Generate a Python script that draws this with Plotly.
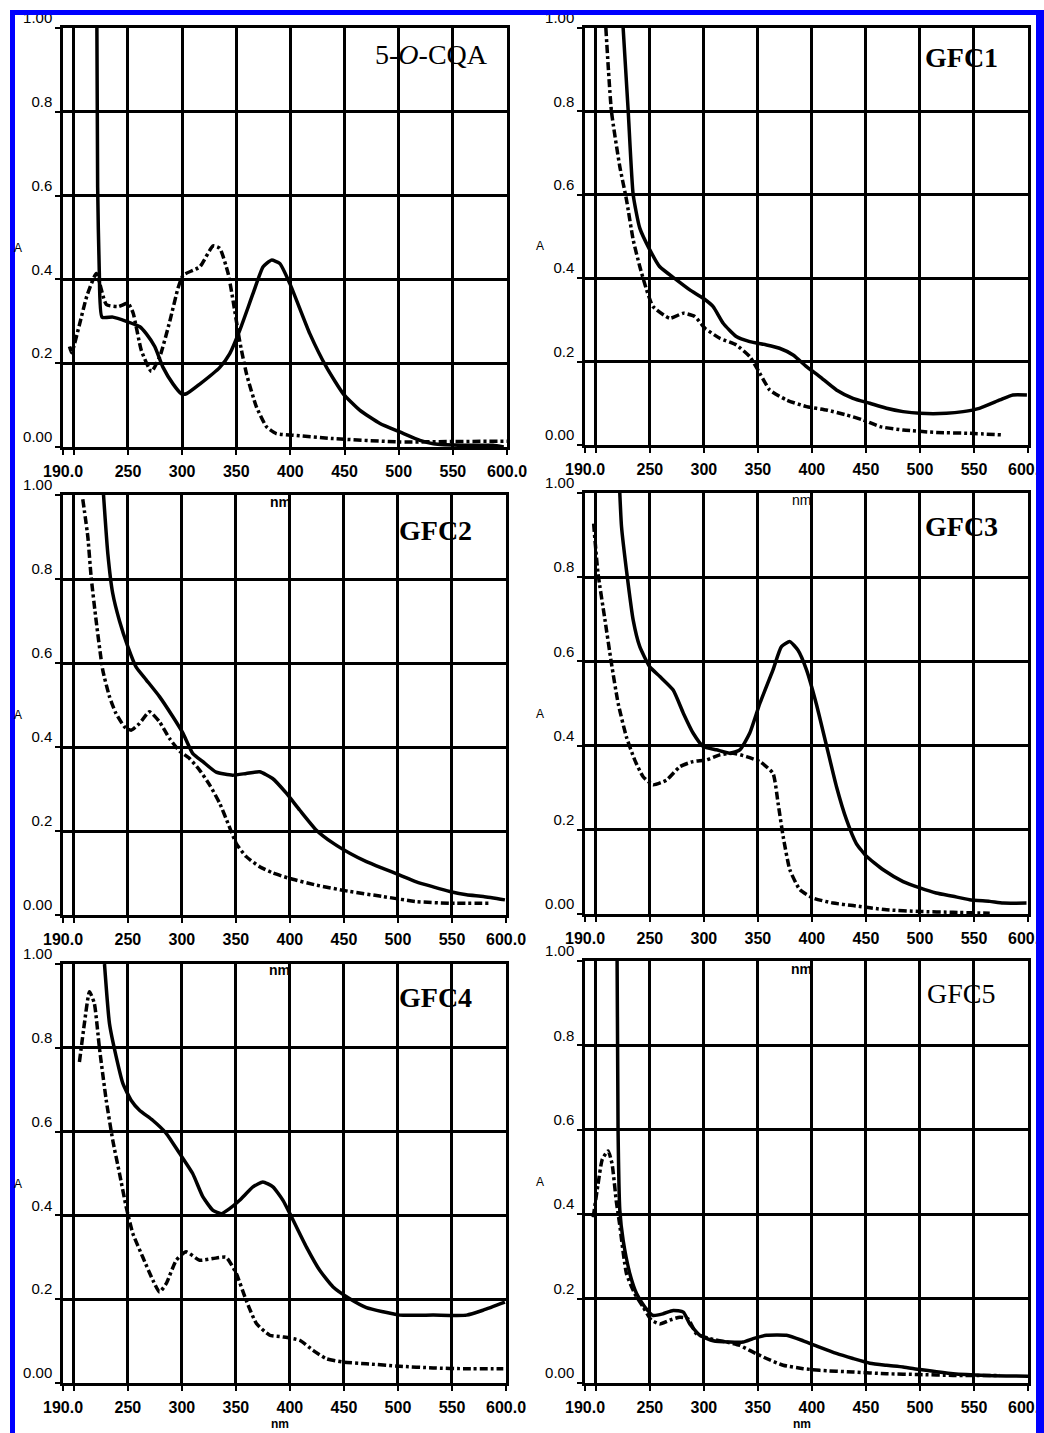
import plotly.graph_objects as go

W, H = 1044, 1433

# ---- tick labels -------------------------------------------------------
x_tick_vals = [190, 200, 250, 300, 350, 400, 450, 500, 550, 600]
x_tick_text = ["190.0", "", "250", "300", "350", "400", "450", "500", "550", "600.0"]
y_tick_vals = [0, 0.2, 0.4, 0.6, 0.8, 1.0]
y_tick_text = ["0.00", "0.2", "0.4", "0.6", "0.8", "1.00"]

panel_titles = ["5-<i>O</i>-CQA", "<b>GFC1</b>", "<b>GFC2</b>", "<b>GFC3</b>", "<b>GFC4</b>", "GFC5"]

# ---- spectra: wavelength (nm) and absorbance ---------------------------
cqa_solid_nm = [221.2, 222.0, 223.5, 226, 236, 248.5, 261, 267, 274.7, 282.4, 291.7, 299.4, 304,
                316.3, 334.8, 344, 353.3, 365.6, 374.8, 382.5, 390.2, 399.5, 418, 433.4, 448.8,
                464, 482.7, 501, 519.6, 532, 562.8, 587, 597]
cqa_solid_a = [1.05, 0.62, 0.42, 0.31, 0.31, 0.30, 0.287, 0.27, 0.24, 0.19, 0.15, 0.127, 0.127,
               0.15, 0.19, 0.223, 0.279, 0.367, 0.43, 0.446, 0.438, 0.39, 0.27, 0.19, 0.127,
               0.088, 0.056, 0.036, 0.016, 0.008, 0.004, 0.004, 0.0]
cqa_dash_nm = [196, 198, 205, 212, 220.8, 230, 240.8, 250, 254.7, 262.4, 271.6, 279.3, 288.6, 296.3,
               300.9, 316.3, 328.6, 334.8, 342.5, 347, 353, 359.4, 368.6, 378, 387, 402.6, 439.5,
               501, 550, 600]
cqa_dash_a = [0.24, 0.225, 0.29, 0.36, 0.414, 0.34, 0.335, 0.343, 0.32, 0.23, 0.18, 0.215, 0.30, 0.38,
              0.41, 0.43, 0.48, 0.474, 0.414, 0.35, 0.255, 0.175, 0.096, 0.048, 0.032, 0.028, 0.02,
              0.012, 0.013, 0.014]

gfc1_solid_nm = [225.3, 230, 234.6, 240.7, 250, 259, 274.7, 287, 299.4, 308.6, 317.9, 330, 342.5,
                 358, 370, 382.6, 395, 407.3, 422.7, 438, 453.6, 469, 484.4, 500, 524.5, 540, 555,
                 574, 586, 599]
gfc1_solid_a = [1.0, 0.80, 0.60, 0.52, 0.468, 0.428, 0.396, 0.372, 0.352, 0.332, 0.292, 0.26, 0.248,
                0.24, 0.232, 0.216, 0.188, 0.164, 0.132, 0.112, 0.10, 0.088, 0.08, 0.076, 0.076,
                0.08, 0.088, 0.108, 0.12, 0.12]
gfc1_dash_nm = [209.3, 214.5, 222.2, 228.4, 234.6, 240.7, 247, 253, 268.5, 281, 291.6, 301, 314.8,
                330, 342.5, 351.8, 361, 376.5, 395, 413.5, 432, 447.4, 463, 484.4, 515.3, 546, 577]
gfc1_dash_a = [1.0, 0.8, 0.668, 0.588, 0.492, 0.428, 0.372, 0.332, 0.304, 0.316, 0.308, 0.28, 0.256,
               0.24, 0.212, 0.172, 0.132, 0.108, 0.092, 0.084, 0.072, 0.06, 0.044, 0.036, 0.03,
               0.028, 0.024]

gfc2_solid_nm = [227.5, 231.5, 236, 242.3, 250, 257.7, 267, 279.3, 291.7, 301, 310, 319.5, 331.8,
                 347, 359.6, 372, 384, 396.7, 409, 424.5, 440, 455.4, 470.8, 486, 501.7, 517,
                 532.6, 548, 563.5, 579, 599]
gfc2_solid_a = [1.0, 0.86, 0.766, 0.70, 0.639, 0.59, 0.56, 0.52, 0.472, 0.433, 0.385, 0.365, 0.34,
                0.333, 0.337, 0.341, 0.325, 0.29, 0.25, 0.202, 0.171, 0.147, 0.127, 0.111, 0.095,
                0.079, 0.067, 0.056, 0.048, 0.044, 0.036]
gfc2_dash_nm = [208.3, 213, 216, 220.7, 226.8, 233, 239, 247, 253, 260.8, 270, 279.3, 288.6, 298,
                307, 316.4, 325.7, 335, 344, 350.4, 359.6, 372, 384.3, 399.8, 424.5, 455.4, 486,
                517, 548, 586.6]
gfc2_dash_a = [0.99, 0.9, 0.806, 0.70, 0.583, 0.52, 0.48, 0.448, 0.44, 0.456, 0.484, 0.46, 0.42,
               0.39, 0.373, 0.345, 0.31, 0.266, 0.21, 0.17, 0.139, 0.115, 0.10, 0.087, 0.071,
               0.056, 0.044, 0.032, 0.028, 0.028]

gfc3_solid_nm = [222.2, 223.8, 228.4, 234.6, 240.7, 250, 259.3, 271.6, 281, 290, 299.4, 311.7, 324,
                 333.3, 342.5, 351.8, 364, 371.8, 379.6, 387, 395, 404, 413.5, 422.7, 432, 441,
                 450.5, 466, 484.4, 500, 515, 530.7, 546, 564.6, 577, 598.6]
gfc3_solid_a = [1.0, 0.92, 0.816, 0.698, 0.635, 0.587, 0.564, 0.532, 0.477, 0.43, 0.398, 0.39, 0.382,
                0.39, 0.43, 0.50, 0.58, 0.635, 0.647, 0.627, 0.58, 0.50, 0.40, 0.303, 0.224, 0.168,
                0.137, 0.105, 0.077, 0.062, 0.05, 0.042, 0.034, 0.03, 0.026, 0.026]
gfc3_dash_nm = [198, 202, 208.4, 214.5, 220.7, 228.4, 236, 243.8, 253, 265.4, 277.8, 290, 302.4,
                314.8, 327, 339.4, 351.8, 364, 368.7, 373.4, 379.6, 388.8, 401, 419.6, 438, 469,
                500, 530.7, 564.6]
gfc3_dash_a = [0.927, 0.81, 0.70, 0.595, 0.50, 0.42, 0.366, 0.326, 0.307, 0.318, 0.35, 0.362, 0.366,
               0.378, 0.382, 0.374, 0.362, 0.334, 0.263, 0.184, 0.105, 0.058, 0.038, 0.026, 0.02,
               0.01, 0.006, 0.004, 0.002]

gfc4_solid_nm = [228.4, 233, 239.2, 245.4, 253, 260.8, 273, 285.5, 297.9, 310, 319.5, 328.8, 336.5,
                 344.2, 353.5, 365.8, 375, 384.3, 393.6, 402.9, 415.2, 427.6, 440, 455.4, 470.8,
                 486.3, 501.7, 532.6, 563.5, 579, 599]
gfc4_solid_a = [1.0, 0.858, 0.779, 0.715, 0.675, 0.651, 0.627, 0.596, 0.548, 0.50, 0.444, 0.412,
                0.404, 0.416, 0.436, 0.468, 0.48, 0.468, 0.436, 0.389, 0.325, 0.269, 0.229, 0.201,
                0.18, 0.17, 0.162, 0.162, 0.162, 0.174, 0.193]
gfc4_dash_nm = [205.2, 209.8, 214.5, 219, 223.7, 230, 236, 242.3, 248.5, 254.6, 263.9, 273.2, 279.3,
                285.5, 294.8, 304, 316.4, 328.8, 341, 350.4, 359.6, 369, 381.3, 393.6, 409, 421.4,
                433.8, 449.2, 470.8, 501.7, 532.6, 563.5, 597.5]
gfc4_dash_a = [0.766, 0.858, 0.934, 0.906, 0.80, 0.675, 0.58, 0.50, 0.42, 0.357, 0.30, 0.245, 0.217,
               0.237, 0.293, 0.313, 0.293, 0.297, 0.30, 0.261, 0.197, 0.142, 0.114, 0.11, 0.102,
               0.078, 0.058, 0.05, 0.046, 0.04, 0.036, 0.034, 0.034]

gfc5_solid_nm = [219.6, 220.6, 222.2, 225.3, 231.5, 237.7, 245.4, 253, 262.3, 271.6, 281, 287,
                 296.3, 308.6, 324, 336.4, 345.6, 358, 376.5, 392, 407, 422.7, 438, 453.6, 469,
                 484.4, 500, 530.7, 561.5, 600]
gfc5_solid_a = [1.05, 0.60, 0.41, 0.338, 0.259, 0.212, 0.18, 0.16, 0.164, 0.172, 0.168, 0.14, 0.113,
                0.10, 0.097, 0.097, 0.105, 0.113, 0.113, 0.10, 0.085, 0.07, 0.058, 0.047, 0.042,
                0.038, 0.032, 0.022, 0.018, 0.016]
gfc5_dash_nm = [197.6, 202, 206, 211.4, 215, 219, 222, 228.4, 236, 243.8, 251.5, 259.3, 268.5,
                277.8, 285.5, 293, 305.5, 321, 333.3, 345.6, 358, 373.4, 392, 407.3, 438, 469,
                500, 530.7, 574]
gfc5_dash_a = [0.393, 0.47, 0.53, 0.55, 0.52, 0.43, 0.377, 0.259, 0.212, 0.18, 0.149, 0.14, 0.149,
               0.156, 0.152, 0.117, 0.105, 0.097, 0.089, 0.073, 0.058, 0.042, 0.034, 0.03, 0.026,
               0.022, 0.02, 0.018, 0.018]

spectra = [
    (cqa_solid_nm, cqa_solid_a, cqa_dash_nm, cqa_dash_a),
    (gfc1_solid_nm, gfc1_solid_a, gfc1_dash_nm, gfc1_dash_a),
    (gfc2_solid_nm, gfc2_solid_a, gfc2_dash_nm, gfc2_dash_a),
    (gfc3_solid_nm, gfc3_solid_a, gfc3_dash_nm, gfc3_dash_a),
    (gfc4_solid_nm, gfc4_solid_a, gfc4_dash_nm, gfc4_dash_a),
    (gfc5_solid_nm, gfc5_solid_a, gfc5_dash_nm, gfc5_dash_a),
]

# plot-area boxes in pixels: (left, right, top, bottom)
boxes = [
    (63, 507, 28, 447),
    (585, 1028, 28, 445),
    (63, 506, 495, 915),
    (585, 1028, 493, 914),
    (63, 506, 964, 1383),
    (585, 1028, 961, 1383),
]
title_pos = [(431, 54), (961, 58), (435, 530), (961, 526), (435, 998), (961, 993)]
nm_bold = [True, False, True, True, True, True]


def px(x):
    return x / W


def py(y):
    return 1 - y / H


fig = go.Figure()
layout = {}
annotations = []

for i, (box, (s_nm, s_a, d_nm, d_a)) in enumerate(zip(boxes, spectra)):
    n = "" if i == 0 else str(i + 1)
    xa, ya = "x" + n, "y" + n
    left, right, top, bottom = box

    fig.add_trace(go.Scatter(x=d_nm, y=d_a, xaxis=xa, yaxis=ya, mode="lines",
                             line=dict(color="black", width=3.5, dash="8px,3px,3px,3px",
                                       shape="spline", smoothing=0.5),
                             showlegend=False, hoverinfo="skip"))
    fig.add_trace(go.Scatter(x=s_nm, y=s_a, xaxis=xa, yaxis=ya, mode="lines",
                             line=dict(color="black", width=3.5, shape="spline", smoothing=0.5),
                             showlegend=False, hoverinfo="skip"))

    layout["xaxis" + n] = dict(
        domain=[px(left), px(right)], anchor=ya, range=[190, 600], automargin=False,
        tickmode="array", tickvals=x_tick_vals, ticktext=x_tick_text,
        showgrid=True, gridcolor="black", gridwidth=2.5,
        showline=True, linecolor="black", linewidth=2.5, mirror=True,
        ticks="outside", ticklen=5, tickwidth=2, tickcolor="black",
        ticklabelstandoff=3, ticklabeloverflow="allow",
        tickfont=dict(family="Liberation Sans", size=16, weight="bold", color="black"),
        zeroline=False, fixedrange=True,
    )
    layout["yaxis" + n] = dict(
        domain=[py(bottom), py(top)], anchor=xa, range=[0, 1], automargin=False,
        tickmode="array", tickvals=y_tick_vals, ticktext=y_tick_text,
        showgrid=True, gridcolor="black", gridwidth=2.5,
        showline=True, linecolor="black", linewidth=2.5, mirror=True,
        ticks="outside", ticklen=5, tickwidth=1.5, tickcolor="black",
        ticklabelshift=-10, ticklabelstandoff=0, ticklabeloverflow="allow",
        tickfont=dict(family="Liberation Sans", size=15, color="black"),
        zeroline=False, fixedrange=True,
    )

    # y-axis title "A"
    annotations.append(dict(text="A", x=px(left - 45), y=py((top + bottom) / 2 + 10),
                            xref="paper", yref="paper", xanchor="center", yanchor="middle",
                            showarrow=False,
                            font=dict(family="Liberation Sans", size=12, color="black")))
    # x-axis title "nm" (bottom row sits against the lower edge of the figure)
    bottom_row = i >= 4
    annotations.append(dict(text="<b>nm</b>" if nm_bold[i] else "nm",
                            x=px((left + right) / 2 - 5),
                            y=0 if bottom_row else py(bottom + 45),
                            xref="paper", yref="paper", xanchor="center",
                            yanchor="bottom" if bottom_row else "top", showarrow=False,
                            font=dict(family="Liberation Sans", size=12 if bottom_row else 14,
                                      color="black")))
    # panel label
    tx, ty = title_pos[i]
    annotations.append(dict(text=panel_titles[i], x=px(tx), y=py(ty),
                            xref="paper", yref="paper", xanchor="center", yanchor="middle",
                            showarrow=False,
                            font=dict(family="Liberation Serif", size=28, color="black")))

# blue frame around the figure
frame_shapes = [
    dict(type="rect", xref="paper", yref="paper", x0=px(10), x1=px(1044), y0=py(15), y1=py(10),
         fillcolor="#0000ff", line=dict(width=0), layer="above"),
    dict(type="rect", xref="paper", yref="paper", x0=px(10), x1=px(15), y0=0, y1=py(10),
         fillcolor="#0000ff", line=dict(width=0), layer="above"),
    dict(type="rect", xref="paper", yref="paper", x0=px(1036), x1=1, y0=0, y1=py(10),
         fillcolor="#0000ff", line=dict(width=0), layer="above"),
]

fig.update_layout(
    template="none",
    width=W, height=H,
    margin=dict(l=0, r=0, t=0, b=0, pad=0, autoexpand=False),
    paper_bgcolor="white", plot_bgcolor="white",
    showlegend=False,
    annotations=annotations,
    shapes=frame_shapes,
    **layout,
)

fig.write_html("out.html", config={"displayModeBar": False})
